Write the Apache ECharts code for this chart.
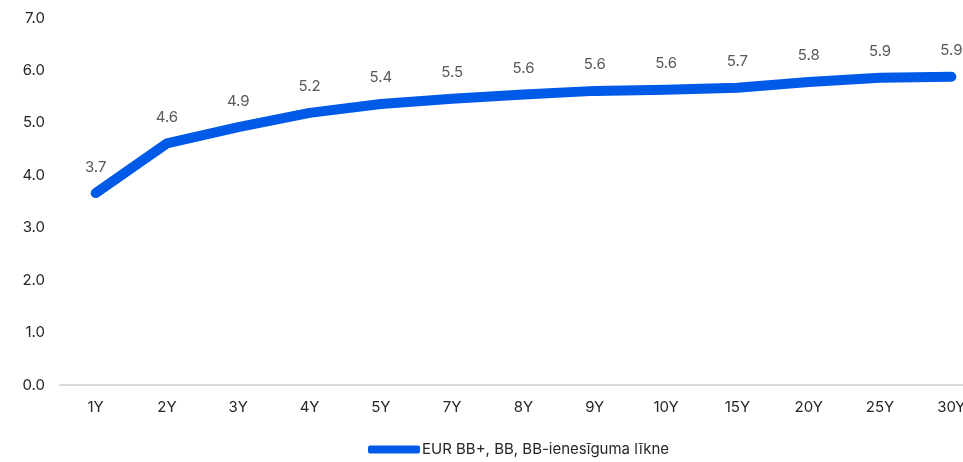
<!DOCTYPE html>
<html>
<head>
<meta charset="utf-8">
<script src="https://cdn.jsdelivr.net/npm/echarts@6/dist/echarts.min.js"></script>
<style>html,body{margin:0;padding:0;background:#fff}#c{width:963px;height:462px}</style>
</head>
<body>
<div id="c"></div>
<script>
const categories = ['1Y','2Y','3Y','4Y','5Y','7Y','8Y','9Y','10Y','15Y','20Y','25Y','30Y'];
const yieldValues = [3.66, 4.61, 4.92, 5.19, 5.36, 5.46, 5.54, 5.61, 5.63, 5.67, 5.78, 5.86, 5.88];
const dataLabels = ['3.7','4.6','4.9','5.2','5.4','5.5','5.6','5.6','5.6','5.7','5.8','5.9','5.9'];
const seriesName = 'EUR BB+, BB, BB-ienesīguma līkne';

const chart = echarts.init(document.getElementById('c'));
chart.setOption({
  animation: false,
  textStyle: { fontFamily: 'Inter, Lato, sans-serif' },
  grid: { left: 60, width: 927, top: 18, bottom: 77, containLabel: false, outerBoundsMode: 'none' },
  xAxis: {
    type: 'category',
    data: categories,
    boundaryGap: true,
    axisLine: { show: true, lineStyle: { color: '#d9d9d9', width: 2 } },
    axisTick: { show: false },
    axisLabel: { color: '#262626', fontSize: 15, margin: 15 }
  },
  yAxis: {
    type: 'value',
    min: 0, max: 7, interval: 1,
    axisLine: { show: false },
    axisTick: { show: false },
    splitLine: { show: false },
    axisLabel: { color: '#262626', fontSize: 15, margin: 15, formatter: v => v.toFixed(1) }
  },
  legend: {
    bottom: 0,
    left: 363,
    itemWidth: 52,
    itemHeight: 8,
    itemGap: 4,
    textStyle: { color: '#262626', fontSize: 15, padding: [0,0,0,-3] },
    data: [{ name: seriesName, icon: 'roundRect' }]
  },
  series: [{
    name: seriesName,
    type: 'line',
    data: yieldValues,
    symbol: 'circle',
    symbolSize: 1,
    showSymbol: true,
    lineStyle: { color: '#005ae8', width: 10, cap: 'round', join: 'round' },
    itemStyle: { color: '#005ae8' },
    label: {
      show: true,
      position: 'top',
      distance: 18,
      color: '#595959',
      fontSize: 15,
      formatter: p => dataLabels[p.dataIndex]
    }
  }]
});
</script>
</body>
</html>
